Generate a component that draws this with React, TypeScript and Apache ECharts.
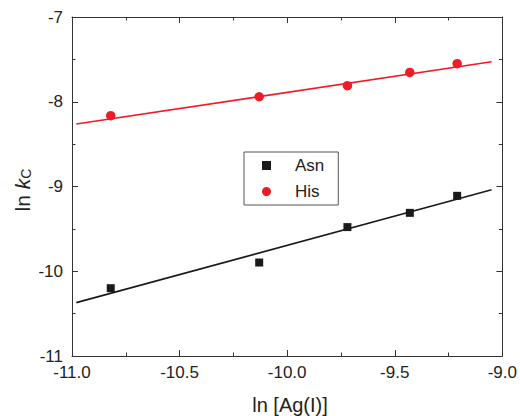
import React, { useEffect, useRef } from "react";
import * as echarts from "echarts";

const xValues = [-10.82, -10.13, -9.72, -9.43, -9.21];
const asnValues = [-10.2, -9.897, -9.479, -9.311, -9.11];
const hisValues = [-8.165, -7.941, -7.811, -7.654, -7.551];
const fitX = [-10.98, -9.05];
const asnFit = [-10.37, -9.039];
const hisFit = [-8.263, -7.528];

const FONT = "'Liberation Sans', Arial, Helvetica, sans-serif";
const AXIS_COLOR = "#333";
const RED = "#ee1c25";
const BLACK = "#1a1a1a";

function axisCommon(show: boolean) {
  return {
    axisLine: { show: true, lineStyle: { color: AXIS_COLOR, width: 1 } },
    axisTick: { show: true, inside: true, length: 6, lineStyle: { color: AXIS_COLOR, width: 1 } },
    minorTick: { show: true, splitNumber: 2, length: 3.5, lineStyle: { color: AXIS_COLOR, width: 1 } },
    splitLine: { show: false },
    minorSplitLine: { show: false },
    axisLabel: { show, color: "#222", fontSize: 17, fontFamily: FONT },
  };
}

export default function App() {
  const ref = useRef<HTMLDivElement>(null);
  useEffect(() => {
    if (!ref.current) return;
    const chart = echarts.init(ref.current, undefined, { renderer: "svg" });
    const pts = (ys: number[]) => xValues.map((x, i) => [x, ys[i]]);
    const fit = (ys: number[]) => fitX.map((x, i) => [x, ys[i]]);
    chart.setOption({
      animation: false,
      backgroundColor: "#fff",
      grid: { left: 72, right: 15, top: 17, bottom: 60 },
      xAxis: [
        {
          type: "value", min: -11, max: -9, interval: 0.5, position: "bottom",
          ...axisCommon(true),
          axisLabel: { show: true, color: "#222", fontSize: 17, fontFamily: FONT, margin: 8, formatter: (v: number) => v.toFixed(1) },
        },
        { type: "value", min: -11, max: -9, interval: 0.5, position: "top", ...axisCommon(false) },
      ],
      yAxis: [
        {
          type: "value", min: -11, max: -7, interval: 1, position: "left",
          ...axisCommon(true),
          axisLabel: { show: true, color: "#222", fontSize: 17, fontFamily: FONT, margin: 9 },
        },
        { type: "value", min: -11, max: -7, interval: 1, position: "right", ...axisCommon(false) },
      ],
      legend: {
        left: 244,
        top: 152,
        orient: "vertical",
        data: [
          { name: "Asn", icon: "rect" },
          { name: "His", icon: "circle" },
        ],
        itemWidth: 9,
        itemHeight: 9,
        itemGap: 9,
        padding: [5, 14, 5, 18],
        borderColor: "#555",
        borderWidth: 1,
        borderRadius: 0,
        textStyle: { fontSize: 17, fontFamily: FONT, color: "#222", padding: [0, 0, 0, 19] },
      },
      series: [
        {
          name: "Asn", type: "scatter", data: pts(asnValues), symbol: "rect", symbolSize: 8,
          itemStyle: { color: BLACK, opacity: 1 }, z: 5,
        },
        {
          name: "His", type: "scatter", data: pts(hisValues), symbol: "circle", symbolSize: 9.5,
          itemStyle: { color: RED, opacity: 1 }, z: 5,
        },
        {
          name: "AsnFit", type: "line", data: fit(asnFit), showSymbol: false, symbol: "none",
          lineStyle: { color: BLACK, width: 1.6 }, itemStyle: { color: BLACK },
        },
        {
          name: "HisFit", type: "line", data: fit(hisFit), showSymbol: false, symbol: "none",
          lineStyle: { color: RED, width: 1.6 }, itemStyle: { color: RED },
        },
      ],
      graphic: [
        {
          type: "text",
          x: 290,
          y: 405,
          style: {
            text: "ln [Ag(I)]",
            fontSize: 20,
            fontFamily: FONT,
            fill: "#222",
            align: "center",
            verticalAlign: "middle",
          },
        },
        {
          type: "text",
          x: 21,
          y: 190,
          rotation: Math.PI / 2,
          style: {
            text: "{a|ln }{b|k}{c|C}",
            align: "center",
            verticalAlign: "middle",
            rich: {
              a: { fontSize: 21, fontFamily: FONT, fill: "#222", lineHeight: 24, verticalAlign: "bottom" },
              b: { fontSize: 21, fontFamily: FONT, fontStyle: "italic", fill: "#222", lineHeight: 24, verticalAlign: "bottom" },
              c: { fontSize: 14, fontFamily: FONT, fill: "#222", lineHeight: 14, verticalAlign: "bottom" },
            },
          },
        },
      ],
    });
    return () => chart.dispose();
  }, []);
  return <div ref={ref} style={{ width: 520, height: 416, position: "absolute", left: 0, top: 0 }} />;
}
